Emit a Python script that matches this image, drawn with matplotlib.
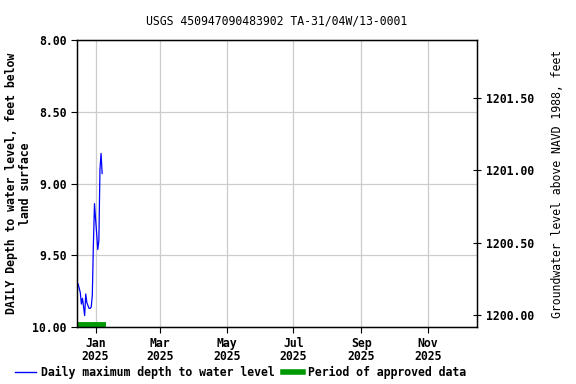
import matplotlib
matplotlib.use("Agg")
import matplotlib.pyplot as plt
import pandas as pd
from matplotlib.lines import Line2D

plt.rcParams['font.family'] = ['DejaVu Sans Mono']
plt.rcParams['font.weight'] = 'bold'

title = "USGS 450947090483902 TA-31/04W/13-0001"

dates = pd.to_datetime([
    "2024-12-16", "2024-12-17", "2024-12-18", "2024-12-19", "2024-12-20",
    "2024-12-21", "2024-12-22", "2024-12-23", "2024-12-24", "2024-12-25",
    "2024-12-26", "2024-12-27", "2024-12-28", "2024-12-29", "2024-12-30",
    "2024-12-31", "2025-01-01", "2025-01-02", "2025-01-03", "2025-01-04",
    "2025-01-05", "2025-01-06", "2025-01-07",
])
depth = [9.70, 9.73, 9.76, 9.84, 9.80,
         9.86, 9.92, 9.77, 9.83, 9.85,
         9.87, 9.87, 9.86, 9.78, 9.42,
         9.14, 9.25, 9.35, 9.46, 9.40,
         8.90, 8.79, 8.93]

approved_start = pd.Timestamp("2024-12-15")
approved_end = pd.Timestamp("2025-01-10 12:00")
approved_level = 9.983

xlim = (pd.Timestamp("2024-12-15"), pd.Timestamp("2025-12-16"))
left_ticks = [8.0, 8.5, 9.0, 9.5, 10.0]
right_ticks = [1200.0, 1200.5, 1201.0, 1201.5]
right_lim = (1199.92, 1201.90)
xtick_dates = pd.to_datetime(["2025-01-01", "2025-03-01", "2025-05-01",
                              "2025-07-01", "2025-09-01", "2025-11-01"])
xtick_labels = ["Jan\n2025", "Mar\n2025", "May\n2025", "Jul\n2025", "Sep\n2025", "Nov\n2025"]

FS = 8.3
fig = plt.figure(figsize=(5.76, 3.84), dpi=100)
ax = fig.add_axes([0.1337, 0.1484, 0.6944, 0.7474])

ax.plot(dates, depth, color='#0000ff', lw=0.9)
ax.plot([approved_start, approved_end], [approved_level, approved_level],
        color='#009900', lw=4.2, solid_capstyle='butt')

ax.set_xlim(*xlim)
ax.set_ylim(10.0, 8.0)
ax.set_yticks(left_ticks)
ax.set_yticklabels([f"{v:.2f}" for v in left_ticks], fontsize=FS)
ax.set_xticks(xtick_dates)
ax.set_xticklabels(xtick_labels, fontsize=FS, linespacing=1.0)
ax.grid(True, color='#cccccc', lw=0.9)
ax.set_axisbelow(True)
ax.tick_params(direction='out', length=4, width=0.8)
for s in ax.spines.values():
    s.set_linewidth(1.0)
ax.set_title(title, fontsize=FS, pad=11)

fig.text(18.5 / 576, 0.1484 + 0.7474 / 2,
         "DAILY Depth to water level, feet below\nland surface",
         rotation=90, ha='center', va='center', multialignment='center',
         fontsize=FS, linespacing=1.1)

ax2 = ax.twinx()
ax2.set_ylim(*right_lim)
ax2.set_yticks(right_ticks)
ax2.set_yticklabels([f"{v:.2f}" for v in right_ticks], fontsize=FS)
ax2.tick_params(direction='inout', length=6, width=0.8)
ax2.set_ylabel("Groundwater level above NAVD 1988, feet", fontsize=FS, labelpad=12)

handles = [Line2D([], [], color='#0000ff', lw=1),
           Line2D([], [], color='#009900', lw=4)]
fig.legend(handles, ["Daily maximum depth to water level", "Period of approved data"],
           loc='lower left', bbox_to_anchor=(5 / 576, -0.015), ncol=2, frameon=False,
           fontsize=FS, handlelength=1.75, columnspacing=0.7, handletextpad=0.45)

fig.savefig("out.png", dpi=100)
